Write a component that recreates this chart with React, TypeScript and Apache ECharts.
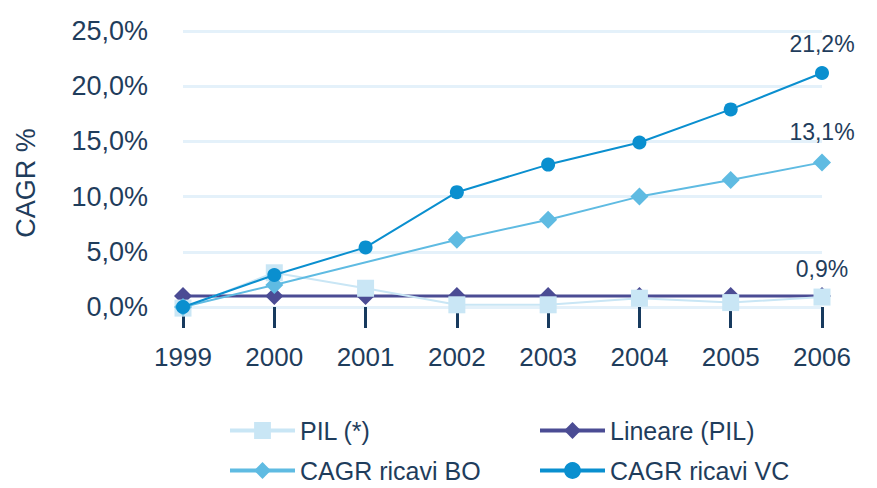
import React, { useEffect, useRef } from "react";
import * as echarts from "echarts";

// Years on the category axis
const years = ["1999", "2000", "2001", "2002", "2003", "2004", "2005", "2006"];

// CAGR values, percent
const pil = [-0.1, 3.1, 1.7, 0.2, 0.2, 0.8, 0.4, 0.9];
const lineare = [1.0, 1.0, 1.0, 1.0, 1.0, 1.0, 1.0, 1.0];
const ricaviBO = [0.0, 2.0, null, 6.1, 7.9, 10.0, 11.5, 13.1];
const ricaviVC = [0.0, 2.9, 5.4, 10.4, 12.9, 14.9, 17.9, 21.2];

// Y axis ticks
const yTicks = [0, 5, 10, 15, 20, 25];

// Legend entries, laid out in two columns
const legendRows = [
  ["PIL (*)", "Lineare (PIL)"],
  ["CAGR ricavi BO", "CAGR ricavi VC"],
];

const TEXT = "#1f3d5c";
const FONT = "'Liberation Sans', Arial, Helvetica, sans-serif";

const fmt = (v: number) => v.toFixed(1).replace(".", ",") + "%";

export default function App() {
  const ref = useRef<HTMLDivElement>(null);

  useEffect(() => {
    if (!ref.current) return;
    const chart = echarts.init(ref.current, null, { renderer: "svg" });

    const endLabel = (offsetY: number) => ({
      show: true,
      position: "top" as const,
      distance: offsetY,
      color: TEXT,
      fontSize: 23,
      fontFamily: FONT,
      formatter: (p: any) =>
        p.dataIndex === years.length - 1 ? fmt(p.value as number) : "",
    });

    const legendLefts = [228, 538];
    const legendTops = [418, 458];
    const legends: any[] = [];
    legendRows.forEach((row, r) =>
      row.forEach((name, c) =>
        legends.push({
          left: legendLefts[c],
          top: legendTops[r],
          padding: 0,
          itemWidth: 65,
          itemHeight: 21,
          lineStyle: { width: 4 },
          data: [name],
          textStyle: { color: TEXT, fontSize: 25, fontFamily: FONT },
        })
      )
    );

    chart.setOption({
      animation: false,
      textStyle: { fontFamily: FONT },
      grid: { left: 183, right: 55, top: 31, bottom: 181 },
      xAxis: {
        type: "category",
        data: years,
        boundaryGap: false,
        offset: 5,
        axisLine: { show: false },
        axisTick: {
          show: true,
          length: 21,
          lineStyle: { color: "#173a5e", width: 3 },
        },
        axisLabel: {
          color: TEXT,
          fontSize: 26,
          fontFamily: FONT,
          margin: 32,
        },
        splitLine: { show: false },
      },
      yAxis: {
        type: "value",
        min: yTicks[0],
        max: yTicks[yTicks.length - 1],
        interval: 5,
        axisLine: { show: false },
        axisTick: { show: false },
        axisLabel: {
          color: TEXT,
          fontSize: 27,
          fontFamily: FONT,
          margin: 35,
          formatter: (v: number) => fmt(v),
        },
        splitLine: { lineStyle: { color: "#e4f1fa", width: 3 } },
      },
      legend: legends,
      graphic: [
        {
          type: "text",
          x: 26,
          y: 183,
          rotation: Math.PI / 2,
          style: {
            text: "CAGR %",
            fill: TEXT,
            fontSize: 27,
            fontFamily: FONT,
            textAlign: "center",
            textVerticalAlign: "middle",
          },
        },
      ],
      series: [
        {
          name: "Lineare (PIL)",
          type: "line",
          data: lineare,
          clip: false,
          symbol: "diamond",
          symbolSize: 18,
          z: 2,
          lineStyle: { color: "#4b4c94", width: 3 },
          itemStyle: { color: "#4b4c94" },
        },
        {
          name: "PIL (*)",
          type: "line",
          data: pil,
          clip: false,
          symbol: "rect",
          symbolSize: 17,
          z: 3,
          lineStyle: { color: "#c9e6f5", width: 2 },
          itemStyle: { color: "#c9e6f5" },
          label: endLabel(8),
        },
        {
          name: "CAGR ricavi BO",
          type: "line",
          data: ricaviBO,
          connectNulls: true,
          clip: false,
          symbol: "diamond",
          symbolSize: 18,
          z: 4,
          lineStyle: { color: "#5fbbe2", width: 2 },
          itemStyle: { color: "#5fbbe2" },
          label: endLabel(10),
        },
        {
          name: "CAGR ricavi VC",
          type: "line",
          data: ricaviVC,
          clip: false,
          symbol: "circle",
          symbolSize: 14,
          z: 5,
          lineStyle: { color: "#0a8fcf", width: 2 },
          itemStyle: { color: "#0a8fcf" },
          label: endLabel(10),
        },
      ],
    });

    return () => chart.dispose();
  }, []);

  return (
    <div
      ref={ref}
      style={{ position: "fixed", left: 0, top: 0, width: 877, height: 488, background: "#fff" }}
    />
  );
}
